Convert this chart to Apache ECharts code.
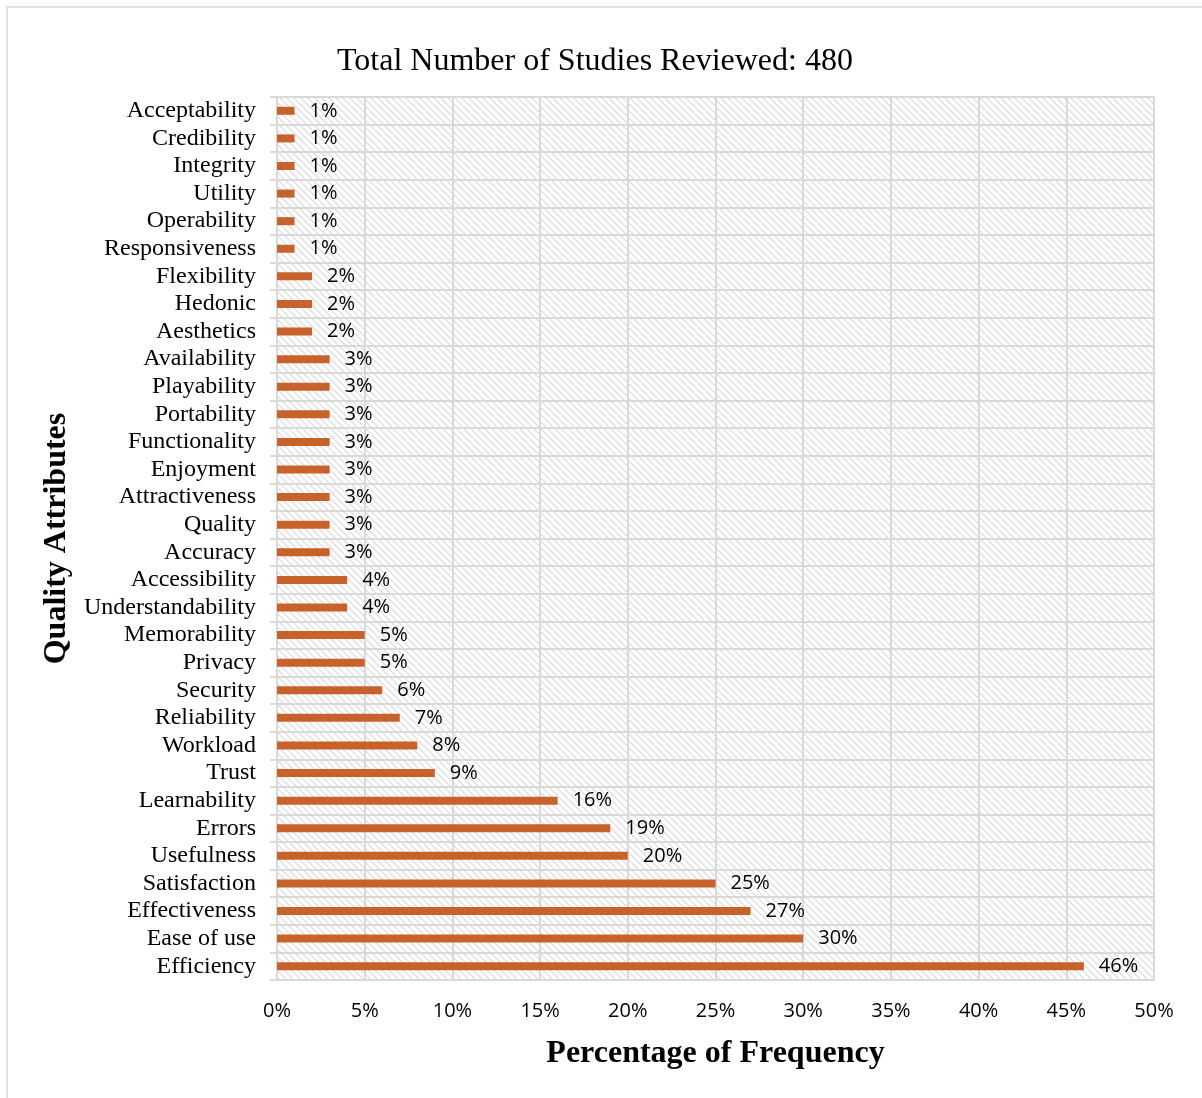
<!DOCTYPE html>
<html>
<head>
<meta charset="utf-8">
<script src="https://cdn.jsdelivr.net/npm/echarts@6/dist/echarts.min.js"></script>
<style>
html,body{margin:0;padding:0;background:#fff;}
#chart{width:1202px;height:1098px;}
</style>
</head>
<body>
<div id="chart"></div>
<script>
const titleText = 'Total Number of Studies Reviewed: 480';
const categories = ['Acceptability','Credibility','Integrity','Utility','Operability','Responsiveness','Flexibility','Hedonic','Aesthetics','Availability','Playability','Portability','Functionality','Enjoyment','Attractiveness','Quality','Accuracy','Accessibility','Understandability','Memorability','Privacy','Security','Reliability','Workload','Trust','Learnability','Errors','Usefulness','Satisfaction','Effectiveness','Ease of use','Efficiency'];
const values = [1,1,1,1,1,1,2,2,2,3,3,3,3,3,3,3,3,4,4,5,5,6,7,8,9,16,19,20,25,27,30,46];
const xTicks = [0,5,10,15,20,25,30,35,40,45,50];

// diagonal hatch pattern
const s = 7;
const cv = document.createElement('canvas');
cv.width = s; cv.height = s;
const cx = cv.getContext('2d');
cx.fillStyle = '#ffffff'; cx.fillRect(0,0,s,s);
cx.strokeStyle = '#d9d9d9'; cx.lineWidth = 1.1;
cx.beginPath();
cx.moveTo(0,0); cx.lineTo(s,s);
cx.moveTo(-1,s-1); cx.lineTo(1,s+1);
cx.moveTo(s-1,-1); cx.lineTo(s+1,1);
cx.stroke();

const chart = echarts.init(document.getElementById('chart'));
const serif = '"Liberation Serif","Times New Roman",serif';
const sans = '"Open Sans","Noto Sans",sans-serif';
chart.setOption({
  animation:false,
  backgroundColor:'#ffffff',
  graphic:[{type:'rect',shape:{x:7,y:7,width:1210,height:1110},style:{fill:'none',stroke:'#d9d9d9',lineWidth:1.5},silent:true}],
  title:{text:titleText,left:590,textAlign:'center',top:41,textStyle:{fontFamily:serif,fontSize:32,fontWeight:'normal',color:'#000'}},
  grid:{left:277,right:48,top:97,bottom:118,show:true,borderColor:'#d9d9d9',borderWidth:2,
        backgroundColor:{image:cv,repeat:'repeat'}},
  xAxis:{type:'value',min:0,max:50,interval:5,
    name:'Percentage of Frequency',nameLocation:'middle',nameGap:58,
    nameTextStyle:{fontFamily:serif,fontSize:32,fontWeight:'bold',color:'#000'},
    axisLine:{show:false},axisTick:{show:false},
    axisLabel:{formatter:v=>v+'%',fontFamily:sans,fontSize:20,color:'#000',margin:21},
    splitLine:{show:true,lineStyle:{color:'#d9d9d9',width:2}}},
  yAxis:{type:'category',data:categories,inverse:true,
    name:'Quality Attributes',nameLocation:'middle',nameGap:192,nameRotate:90,
    nameTextStyle:{fontFamily:serif,fontSize:32,fontWeight:'bold',color:'#000'},
    axisLine:{show:true,lineStyle:{color:'#d9d9d9',width:2}},
    axisTick:{show:true,interval:0,length:7,lineStyle:{color:'#d9d9d9',width:2}},
    axisLabel:{interval:0,fontFamily:serif,fontSize:24,color:'#000',margin:21,padding:[4,0,0,0]},
    splitLine:{show:true,interval:0,lineStyle:{color:'#d9d9d9',width:2}}},
  series:[{type:'bar',data:values,barWidth:8,
    itemStyle:{color:'#C6622A'},
    label:{show:true,position:'right',distance:15,formatter:p=>p.value+'%',fontFamily:sans,fontSize:20,color:'#000'}}]
});
</script>
</body>
</html>
